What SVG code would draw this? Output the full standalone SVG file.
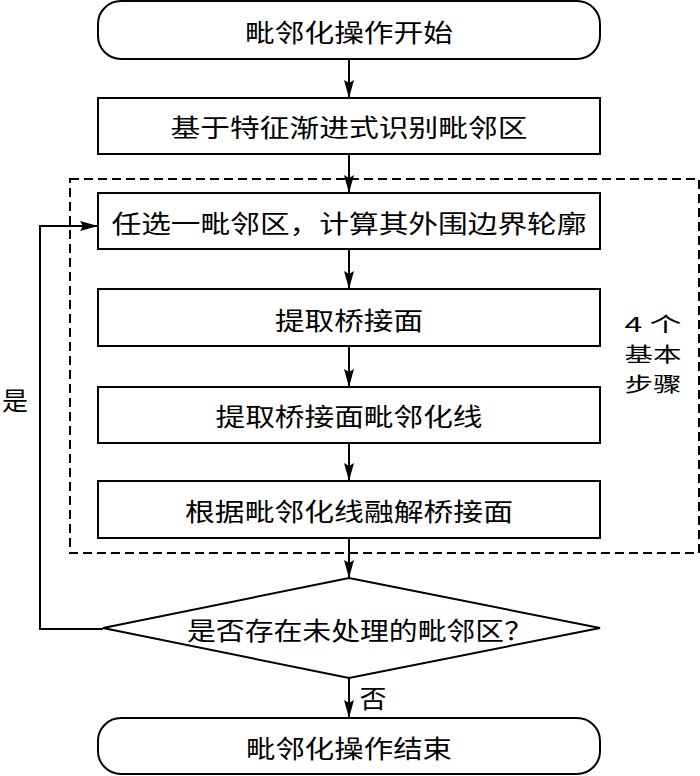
<svg xmlns="http://www.w3.org/2000/svg" width="700" height="776" viewBox="0 0 700 776">
<defs>
<style>
.box{fill:#fff;stroke:#000;stroke-width:2}
.t{font-family:"Noto Sans CJK SC","Liberation Serif",serif;font-size:25px;fill:#000;text-anchor:middle;dominant-baseline:central}
.s{font-size:20px}
.edge{fill:none;stroke:#000;stroke-width:2}
.dash{fill:none;stroke:#000;stroke-width:2;stroke-dasharray:9 5}
</style>
<marker id="ah" markerUnits="userSpaceOnUse" markerWidth="18" markerHeight="10" refX="18" refY="5" orient="auto">
<path d="M0,0 L18,5 L0,10 L3,5 z" fill="#000"/>
</marker>
</defs>
<rect width="700" height="776" fill="#fff"/>
<g id="group-steps">
<rect class="dash" x="70" y="179" width="629" height="374"/>
<text class="t s" x="653" y="323" textLength="57" lengthAdjust="spacingAndGlyphs">4 个</text>
<text class="t s" x="653" y="353" textLength="57" lengthAdjust="spacingAndGlyphs">基本</text>
<text class="t s" x="653" y="383" textLength="57" lengthAdjust="spacingAndGlyphs">步骤</text>
</g>
<g id="connectors">
<line class="edge" x1="349" y1="59" x2="349" y2="98" marker-end="url(#ah)"/>
<line class="edge" x1="349" y1="154" x2="349" y2="193" marker-end="url(#ah)"/>
<line class="edge" x1="349" y1="249" x2="349" y2="289" marker-end="url(#ah)"/>
<line class="edge" x1="349" y1="346" x2="349" y2="387" marker-end="url(#ah)"/>
<line class="edge" x1="349" y1="443" x2="349" y2="481" marker-end="url(#ah)"/>
<line class="edge" x1="349" y1="538" x2="349" y2="578" marker-end="url(#ah)"/>
<line class="edge" x1="349" y1="678" x2="349" y2="718" marker-end="url(#ah)"/>
<polyline class="edge" points="103,629 40,629 40,226 98,226" marker-end="url(#ah)"/>
<text class="t" x="15" y="399" textLength="26" lengthAdjust="spacingAndGlyphs">是</text>
<text class="t" x="373" y="697" textLength="27" lengthAdjust="spacingAndGlyphs">否</text>
</g>
<g id="start">
<rect class="box" x="98" y="1" width="502" height="58" rx="23" ry="23"/>
<text class="t" x="349" y="31" textLength="208" lengthAdjust="spacingAndGlyphs">毗邻化操作开始</text>
</g>
<g id="identify">
<rect class="box" x="98" y="98" width="502" height="56"/>
<text class="t" x="349" y="126" textLength="357" lengthAdjust="spacingAndGlyphs">基于特征渐进式识别毗邻区</text>
</g>
<g id="select">
<rect class="box" x="98" y="193" width="502" height="56"/>
<text class="t" x="349" y="222" textLength="475" lengthAdjust="spacingAndGlyphs">任选一毗邻区，计算其外围边界轮廓</text>
</g>
<g id="extract-bridge">
<rect class="box" x="98" y="289" width="502" height="57"/>
<text class="t" x="349" y="319" textLength="148" lengthAdjust="spacingAndGlyphs">提取桥接面</text>
</g>
<g id="extract-line">
<rect class="box" x="98" y="387" width="502" height="56"/>
<text class="t" x="349" y="415" textLength="267" lengthAdjust="spacingAndGlyphs">提取桥接面毗邻化线</text>
</g>
<g id="dissolve">
<rect class="box" x="98" y="481" width="502" height="57"/>
<text class="t" x="349" y="510" textLength="328" lengthAdjust="spacingAndGlyphs">根据毗邻化线融解桥接面</text>
</g>
<g id="decision">
<polygon class="box" points="349,578 600,628 349,678 103,628"/>
<text class="t" x="360" y="629" textLength="346" lengthAdjust="spacingAndGlyphs">是否存在未处理的毗邻区？</text>
</g>
<g id="end">
<rect class="box" x="98" y="718" width="502" height="56" rx="23" ry="23"/>
<text class="t" x="349" y="747" textLength="206" lengthAdjust="spacingAndGlyphs">毗邻化操作结束</text>
</g>
</svg>
